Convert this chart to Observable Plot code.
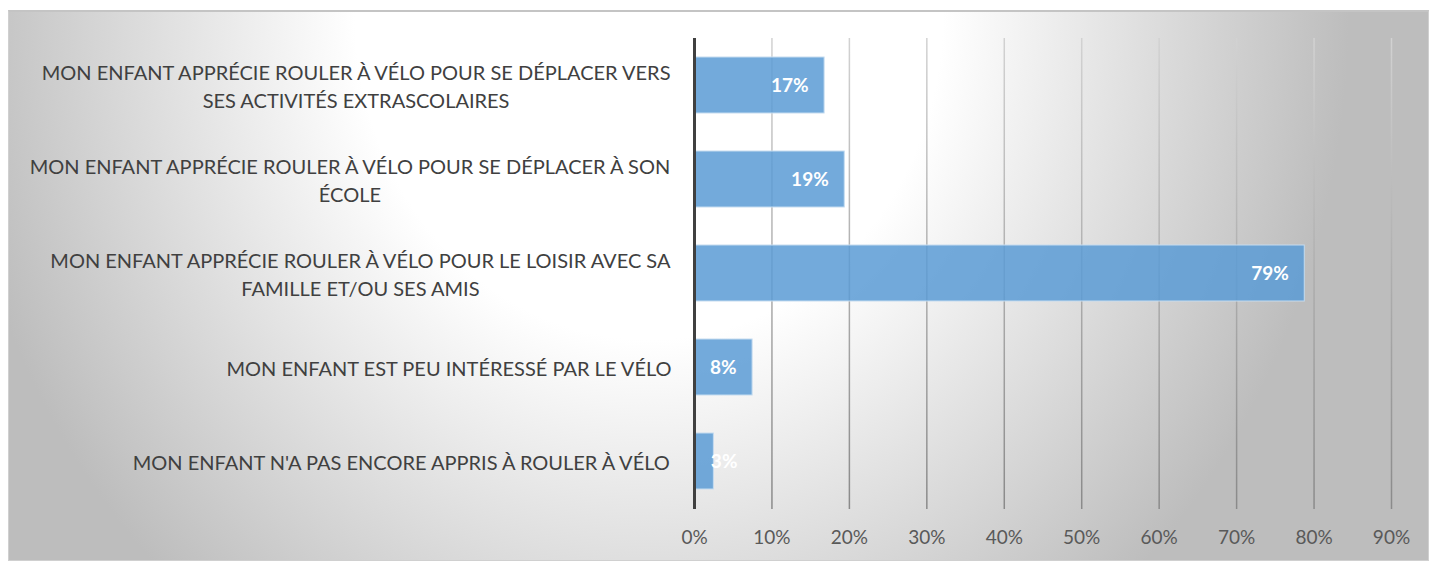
<!DOCTYPE html>
<html><head><meta charset="utf-8">
<script src="https://cdn.jsdelivr.net/npm/d3@7"></script>
<script src="https://cdn.jsdelivr.net/npm/@observablehq/plot@0.6"></script>
<style>
html,body{margin:0;padding:0;background:#fff;width:1430px;height:562px;overflow:hidden}
#bg{position:absolute;left:8px;top:10px;width:1421px;height:551px;box-sizing:border-box;border:1px solid #d0d0d0;border-top:2px solid #c4c4c4;background:radial-gradient(ellipse 700px 780px at 640px 0px,#ffffff 0%,#ffffff 42%,#bdbdbd 100%)}
#chart{position:absolute;left:0;top:0}
</style></head><body>
<div id="bg"></div><div id="chart"></div>
<script>
const categories = [
  "MON ENFANT APPRÉCIE ROULER À VÉLO POUR SE DÉPLACER VERS\nSES ACTIVITÉS EXTRASCOLAIRES",
  "MON ENFANT APPRÉCIE ROULER À VÉLO POUR SE DÉPLACER À SON\nÉCOLE",
  "MON ENFANT APPRÉCIE ROULER À VÉLO POUR LE LOISIR AVEC SA\nFAMILLE ET/OU SES AMIS",
  "MON ENFANT EST PEU INTÉRESSÉ PAR LE VÉLO",
  "MON ENFANT N'A PAS ENCORE APPRIS À ROULER À VÉLO"
];
const values = [16.8, 19.4, 78.8, 7.5, 2.5];
const xTicks = [0, 10, 20, 30, 40, 50, 60, 70, 80, 90];

const data = categories.map((c, i) => ({category: c, value: values[i]}));

const FONT = "Lato, 'Open Sans', sans-serif";
const LABEL_SIZE = 20;
const ctx = document.createElement("canvas").getContext("2d");
ctx.font = `${LABEL_SIZE}px Lato`;

const labelMarks = categories.map(c => {
  const w = Math.max(...c.split("\n").map(s => ctx.measureText(s).width));
  return Plot.text([c], {
    y: d => d, text: d => d, frameAnchor: "left", textAnchor: "middle",
    dx: -22 - w / 2, lineHeight: 28 / LABEL_SIZE, fontSize: LABEL_SIZE, fill: "#404040"
  });
});

const gridDefs = (index, scales, values, dim) => {
  const g = d3.create("svg:defs");
  const lg = g.append("linearGradient").attr("id", "gridGrad")
    .attr("gradientUnits", "userSpaceOnUse")
    .attr("x1", 0).attr("x2", 0)
    .attr("y1", dim.marginTop).attr("y2", dim.height - dim.marginBottom);
  lg.append("stop").attr("offset", "0%").attr("stop-color", "#d2d2d2");
  lg.append("stop").attr("offset", "100%").attr("stop-color", "#8a8a8a");
  return g.node();
};

const plot = Plot.plot({
  width: 1430, height: 562,
  marginLeft: 694, marginRight: 39, marginTop: 38, marginBottom: 53,
  style: {background: "transparent", fontFamily: FONT},
  x: {domain: [0, 90], ticks: xTicks, label: null},
  y: {domain: categories, paddingInner: 0.4, paddingOuter: 0.2, axis: null},
  marks: [
    gridDefs,
    Plot.ruleX(xTicks.filter(d => d > 0), {stroke: "url(#gridGrad)", strokeWidth: 1.5}),
    Plot.barX(data, {x: "value", y: "category", fill: "#5b9bd5", fillOpacity: 0.85, stroke: "#c5dcf0", strokeWidth: 1}),
    Plot.ruleX([0], {stroke: "#404040", strokeWidth: 3}),
    Plot.axisX({ticks: xTicks, tickSize: 0, tickPadding: 21, tickFormat: d => d + "%", fontSize: 19, color: "#595959", label: null}),
    Plot.text(data.filter(d => d.value >= 5), {x: "value", y: "category", text: d => Math.round(d.value) + "%", textAnchor: "end", dx: -16, fill: "white", fontWeight: "bold", fontSize: 19}),
    Plot.text(data.filter(d => d.value < 5), {x: "value", y: "category", text: d => Math.round(d.value) + "%", textAnchor: "start", dx: -3, fill: "white", fontWeight: "bold", fontSize: 19}),
    ...labelMarks
  ]
});
document.getElementById("chart").appendChild(plot);
</script>
</body></html>
